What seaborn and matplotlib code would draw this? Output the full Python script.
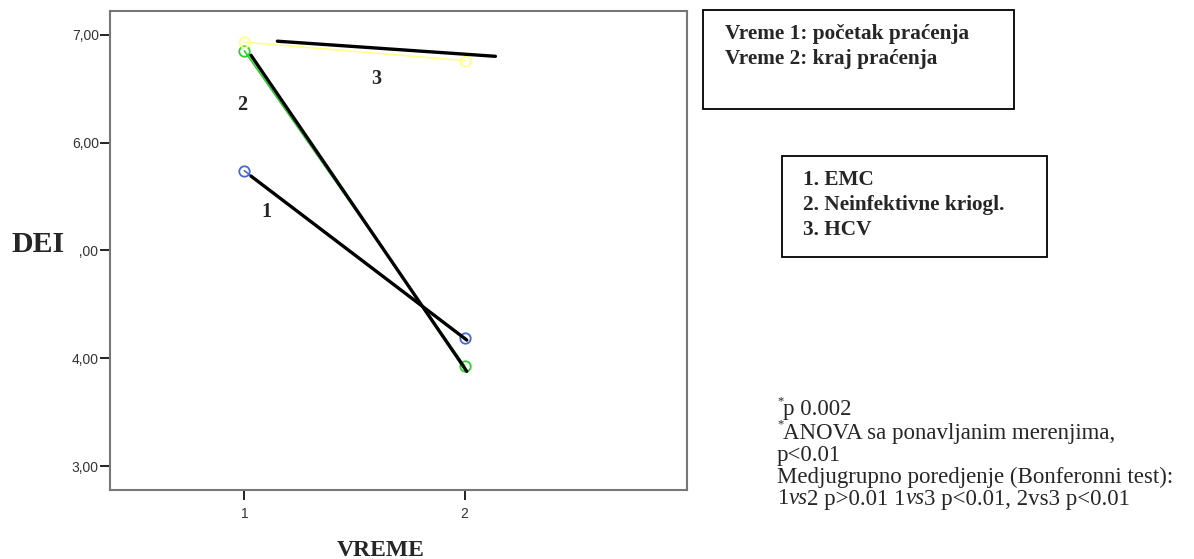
import numpy as np
import pandas as pd
import matplotlib
matplotlib.use("Agg")
import matplotlib.pyplot as plt
from matplotlib.patches import Rectangle
import seaborn as sns

# ---- data ----
time_points = [1, 2]
groups = ["1", "2", "3"]
dei_emc = [5.74, 4.19]
dei_neinf = [6.85, 3.93]
dei_hcv = [6.93, 6.76]

# hand-drawn black overlay lines (start/end in data units)
overlay_x = [[1.03, 2.01], [1.03, 2.01], [1.15, 2.14]]
overlay_y = [[5.69, 4.17], [6.81, 3.88], [6.94, 6.80]]

# group number labels (x, y)
label_text = ["1", "2", "3"]
label_x = [1.10, 0.99, 1.60]
label_y = [5.36, 6.35, 6.59]

yticks = [3, 4, 5, 6, 7]
ytick_labels = ["3,00", "4,00", "5,00", "6,00", "7,00"]
xticks = [1, 2]
xtick_labels = ["1", "2"]

legend_time = ["Vreme 1: početak praćenja", "Vreme 2: kraj praćenja"]
legend_groups = ["1. EMC", "2. Neinfektivne kriogl.", "3. HCV"]

notes = [
    "p 0.002",
    "ANOVA sa ponavljanim merenjima,",
    "p<0.01",
    "Medjugrupno poredjenje (Bonferonni test):",
]
notes_star = [True, True, False, False]
last_line = [("1", "normal"), ("vs", "italic"), ("2 p>0.01 1", "normal"),
             ("vs", "italic"), ("3 p<0.01, 2vs3 p<0.01", "normal")]

colors = {"1": "#4a67d6", "2": "#2bd12b", "3": "#ffff8a"}

df = pd.DataFrame({
    "VREME": time_points * 3,
    "DEI": dei_emc + dei_neinf + dei_hcv,
    "grupa": [g for g in groups for _ in time_points],
})

ov = pd.DataFrame({
    "x": [v for seg in overlay_x for v in seg],
    "y": [v for seg in overlay_y for v in seg],
    "seg": [i for i, seg in enumerate(overlay_x) for _ in seg],
})

sns.set_style("ticks")
plt.rcParams["font.family"] = ["Liberation Sans", "DejaVu Sans"]

W, H = 1194, 559
fig = plt.figure(figsize=(W / 100, H / 100), dpi=100)
ax = fig.add_axes([110 / W, (H - 490) / H, (687 - 110) / W, (490 - 11) / H])

sns.lineplot(data=df, x="VREME", y="DEI", hue="grupa", palette=colors,
             marker="o", markersize=7.5, markerfacecolor="none",
             markeredgewidth=1.3, linewidth=1.2, legend=False, ax=ax,
             zorder=2)
for line in ax.lines:
    line.set_markeredgecolor(line.get_color())

sns.lineplot(data=ov, x="x", y="y", units="seg", estimator=None,
             color="black", linewidth=2.4, legend=False, ax=ax, zorder=3,
             sort=False)

for t, x, y in zip(label_text, label_x, label_y):
    ax.text(x, y, t, fontsize=14.5, fontweight="bold", family="Liberation Serif",
            ha="center", va="center", zorder=4)

ax.set_xlim(0.39, 3.01)
ax.set_ylim(2.78, 7.22)
ax.set_xticks(xticks)
ax.set_xticklabels(xtick_labels)
ax.set_yticks(yticks)
ax.set_yticklabels(ytick_labels)
ax.set_xlabel("")
ax.set_ylabel("")
ax.tick_params(axis="both", direction="out", length=7, width=1.4,
               color="#222222", labelsize=10, labelcolor="#333333", pad=1,
               left=True, bottom=True)
ax.tick_params(axis="x", pad=5)
for s in ax.spines.values():
    s.set_visible(True)
    s.set_color("#777777")
    s.set_linewidth(1.5)

# axis titles
fig.text(11 / W, 1 - 245 / H, "DEI", fontsize=21.5, fontweight="bold",
         family="Liberation Serif", ha="left", va="center")
fig.text(381 / W, 1 - 556 / H, "VREME", fontsize=17, fontweight="bold",
         family="Liberation Serif", ha="center", va="baseline")
# white patch partially hiding the 5,00 label as in the reference
fig.patches.append(Rectangle((64 / W, 1 - 262 / H), 16 / W, 24 / H,
                             transform=fig.transFigure, facecolor="white",
                             edgecolor="none", zorder=10))

# boxes
fig.patches.append(Rectangle((703 / W, 1 - 109 / H), (1014 - 703) / W, (109 - 10) / H,
                             transform=fig.transFigure, facecolor="white",
                             edgecolor="black", linewidth=1.3, zorder=5))
for i, t in enumerate(legend_time):
    fig.text(725 / W, 1 - (34 + 25 * i) / H, t, fontsize=15.3, fontweight="bold",
             family="Liberation Serif", ha="left", va="center", zorder=6)

fig.patches.append(Rectangle((782 / W, 1 - 257 / H), (1047 - 782) / W, (257 - 156) / H,
                             transform=fig.transFigure, facecolor="white",
                             edgecolor="black", linewidth=1.3, zorder=5))
for i, t in enumerate(legend_groups):
    fig.text(803 / W, 1 - (180 + 25 * i) / H, t, fontsize=15.3, fontweight="bold",
             family="Liberation Serif", ha="left", va="center", zorder=6)

# notes
ys = [410, 433, 455, 477, 499]
FS = 16.5
for t, star, y in zip(notes, notes_star, ys):
    if star:
        fig.text(777 / W, 1 - (y - 9) / H, "*", fontsize=9,
                 family="Liberation Serif", ha="left", va="center")
        fig.text(783 / W, 1 - y / H, t, fontsize=FS, family="Liberation Serif",
                 ha="left", va="center")
    else:
        fig.text(777 / W, 1 - y / H, t, fontsize=FS, family="Liberation Serif",
                 ha="left", va="center")
# last line with italic "vs"
x = 777
renderer = fig.canvas.get_renderer()
for txt, st in last_line:
    tt = fig.text(x / W, 1 - ys[-1] / H, txt, fontsize=FS, family="Liberation Serif",
                  style=st, ha="left", va="center")
    bb = tt.get_window_extent(renderer=renderer)
    x += bb.width

fig.savefig("out.png", dpi=100, facecolor="white")
